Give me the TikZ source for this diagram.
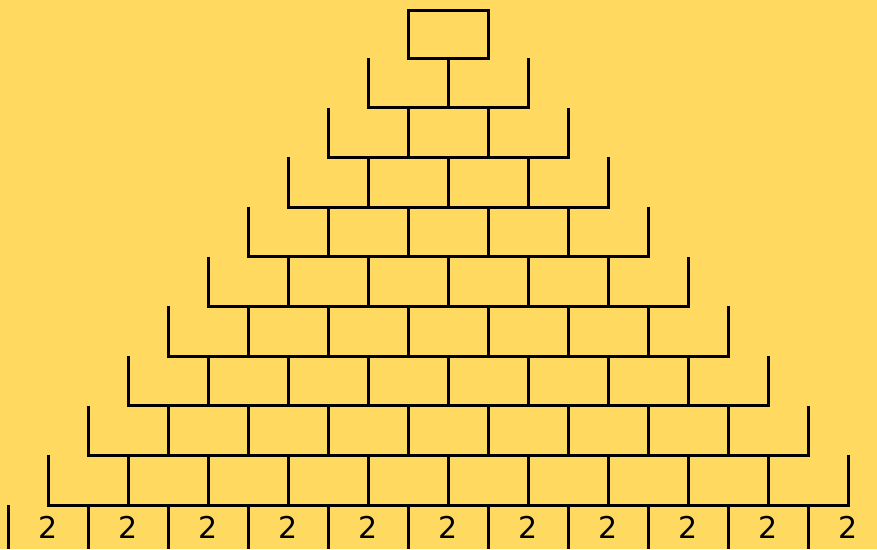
\documentclass[tikz,border=0pt]{standalone}
\usepackage{fontspec}
\setmainfont{DejaVu Sans}
\definecolor{sand}{HTML}{FFD960}

\begin{document}
\begin{tikzpicture}[
  x=1pt, y=-1pt,
  brick/.style={draw=black, line width=3pt},
  num/.style={font=\fontsize{30}{30}\selectfont, inner sep=0pt}
]

% ================= Background =================
\fill[sand] (0,0) rectangle (877,549);
\useasboundingbox (0,0) rectangle (877,549);

% ================= Top brick =================
\draw[brick] (408,10) rectangle (488,58);

% ================= Rows 2..10 =================
\foreach \r in {2,...,10} {
  \pgfmathsetmacro{\xl}{408-40*(\r-1)}
  \pgfmathsetmacro{\xr}{\xl+80*\r}
  \pgfmathsetmacro{\yb}{58+49.67*(\r-1)}
  \pgfmathsetmacro{\yt}{\yb-49.67}
  \draw[brick] (\xl,\yt) -- (\xl,\yb) -- (\xr,\yb) -- (\xr,\yt);
  \foreach \k in {1,...,\numexpr\r-1\relax}
    \draw[brick] (\xl+80*\k,\yt) -- (\xl+80*\k,\yb);
}

% ================= Bottom row with numbers =================
\foreach \k in {0,...,11}
  \draw[brick] (8+80*\k,505) -- (8+80*\k,549);
\foreach \k in {0,...,10}
  \node[num] (n\k) at (48+80*\k,527) {2};

\end{tikzpicture}
\end{document}
